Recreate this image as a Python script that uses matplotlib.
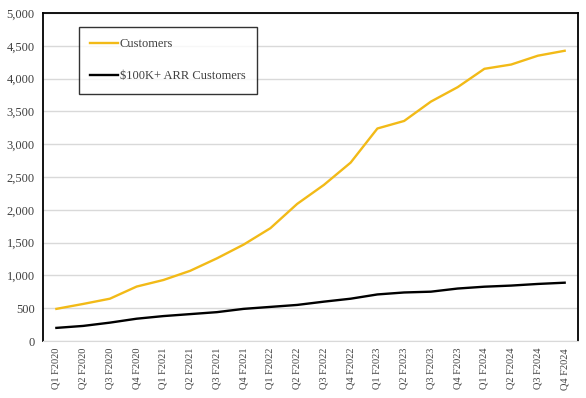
import matplotlib
matplotlib.use("Agg")
import matplotlib.pyplot as plt

# quarterly customer counts
quarters = ["Q1 F2020", "Q2 F2020", "Q3 F2020", "Q4 F2020",
            "Q1 F2021", "Q2 F2021", "Q3 F2021", "Q4 F2021",
            "Q1 F2022", "Q2 F2022", "Q3 F2022", "Q4 F2022",
            "Q1 F2023", "Q2 F2023", "Q3 F2023", "Q4 F2023",
            "Q1 F2024", "Q2 F2024", "Q3 F2024", "Q4 F2024"]
customers = [490, 565, 645, 830, 930, 1070, 1260, 1470, 1720, 2090,
             2380, 2720, 3240, 3355, 3650, 3870, 4150, 4215, 4350, 4425]
arr_100k = [200, 230, 280, 340, 380, 410, 440, 490, 520, 550,
            600, 645, 710, 740, 752, 800, 828, 845, 870, 889]
yticks = [0, 500, 1000, 1500, 2000, 2500, 3000, 3500, 4000, 4500, 5000]

plt.rcParams['font.family'] = ['Liberation Serif', 'DejaVu Serif']

fig = plt.figure(figsize=(5.86, 3.98), dpi=100)
ax = fig.add_axes([0.0734, 0.1432, 0.913, 0.824])

x = range(len(quarters))
ax.plot(x, customers, color='#F2BA17', lw=1.7, label='Customers')
ax.plot(x, arr_100k, color='black', lw=1.7, label='$100K+ ARR Customers')

ax.set_xlim(-0.5, len(quarters) - 0.5)
ax.set_ylim(0, 5000)
ax.set_yticks(yticks)
ax.set_yticklabels([f"{v:,}" for v in yticks])
ax.set_xticks(list(x))
ax.set_xticklabels(quarters, rotation=90)
ax.tick_params(length=0, colors='#404040')
ax.tick_params(axis='y', pad=6, labelsize=9)
ax.tick_params(axis='x', pad=5, labelsize=7.5)

ax.grid(axis='y', color='#D9D9D9', lw=1)
ax.set_axisbelow(True)
for s in ['left', 'top', 'right']:
    ax.spines[s].set_color('black')
    ax.spines[s].set_linewidth(1.3)
ax.spines['bottom'].set_color('#D9D9D9')

leg = ax.legend(loc='upper left', bbox_to_anchor=(79 / 586, 1 - 27 / 398),
                bbox_transform=fig.transFigure, fontsize=9,
                frameon=True, fancybox=False, handlelength=2.2,
                handletextpad=0.15, labelspacing=1.6, borderpad=0.9,
                borderaxespad=0)
leg.get_frame().set_edgecolor('black')
leg.get_frame().set_linewidth(1.0)
for t in leg.get_texts():
    t.set_color('#404040')

fig.savefig('out.png', dpi=100)
